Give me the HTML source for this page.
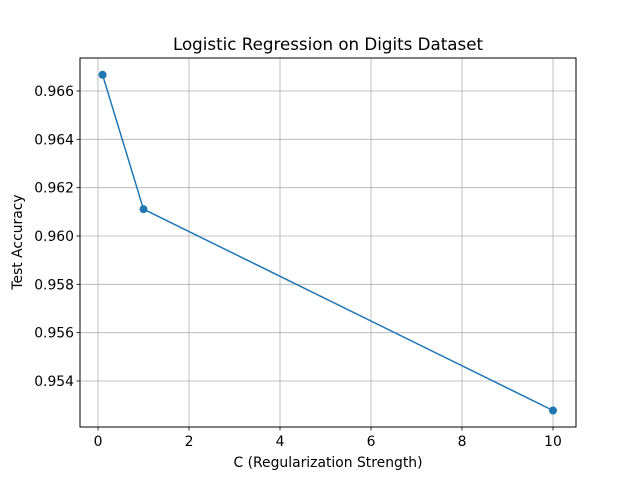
<!DOCTYPE html>
<html><head><meta charset="utf-8"><style>
body{margin:0;background:#fff;}
svg{display:block;font-family:"DejaVu Sans","Liberation Sans",sans-serif;}
</style></head><body>
<svg id="chart" width="640" height="480" viewBox="0 0 640 480">
<rect width="640" height="480" fill="#fff"/>
<text x="328" y="50" font-size="16.7" text-anchor="middle">Logistic Regression on Digits Dataset</text>
<text x="328" y="467" font-size="13.9" text-anchor="middle">C (Regularization Strength)</text>
<text transform="translate(22,242) rotate(-90)" font-size="13.9" text-anchor="middle">Test Accuracy</text>
<g id="grid"></g><g id="ticks"></g><g id="series"></g>
<rect x="80" y="58" width="496" height="369" fill="none" stroke="#000" stroke-width="1"/>
</svg>
<script>
const cValues=[0.1,1,10];
const accuracy=[0.96667,0.96111,0.95278];
const xTicks=[0,2,4,6,8,10];
const yTicks=[0.954,0.956,0.958,0.960,0.962,0.964,0.966];
const yLabels=["0.954","0.956","0.958","0.960","0.962","0.964","0.966"];
const NS="http://www.w3.org/2000/svg";
function xs(v){return 98+v*45.5;}
function ys(v){return 91+(0.966-v)*24167;}
function mk(t,a,p){const e=document.createElementNS(NS,t);for(const k in a)e.setAttribute(k,a[k]);p.appendChild(e);return e;}
const grid=document.getElementById('grid'),ticks=document.getElementById('ticks'),ser=document.getElementById('series');
xTicks.forEach(v=>{const x=xs(v);
const g=mk('line',{x1:x,x2:x,y1:58,y2:427,stroke:'#b0b0b0','stroke-width':0.8},grid);


const t=mk('line',{x1:x,x2:x,y1:427,y2:430.5,stroke:'#000','stroke-width':0.8},ticks);


const l=mk('text',{x:x,y:446,'font-size':13.9,'text-anchor':'middle'},ticks);l.textContent=v;


});
yTicks.forEach((v,i)=>{const y=ys(v);
const g=mk('line',{x1:80,x2:576,y1:y,y2:y,stroke:'#b0b0b0','stroke-width':0.8},grid);


const t=mk('line',{x1:76.5,x2:80,y1:y,y2:y,stroke:'#000','stroke-width':0.8},ticks);


const l=mk('text',{x:74,y:y+5,'font-size':13.9,'text-anchor':'end'},ticks);l.textContent=yLabels[i];


});
const pts=cValues.map((c,i)=>xs(c)+','+ys(accuracy[i])).join(' ');
const pl=mk('polyline',{points:pts,fill:'none',stroke:'#1f77b4','stroke-width':1.5},ser);


cValues.forEach((c,i)=>{const p=mk('circle',{cx:xs(c),cy:ys(accuracy[i]),r:4,fill:'#1f77b4'},ser);


});
</script>
</body></html>
